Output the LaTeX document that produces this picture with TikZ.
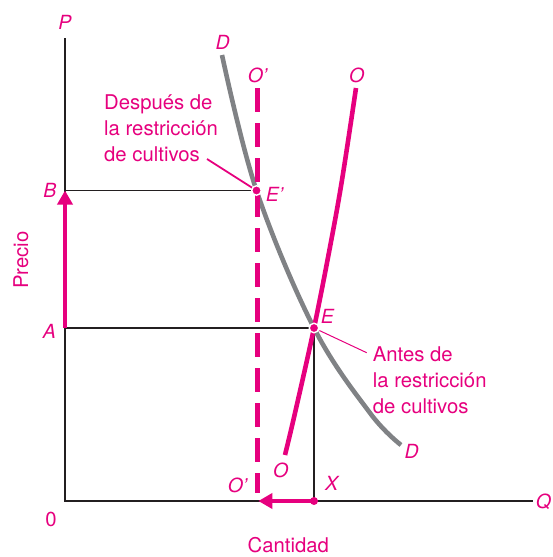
\documentclass[tikz,border=0pt]{standalone}
\usepackage{fontspec}
\setmainfont{TeX Gyre Heros}
\usetikzlibrary{arrows.meta}
\definecolor{mag}{HTML}{E6007E}
\definecolor{dgray}{HTML}{808285}
\definecolor{axk}{HTML}{231F20}
\begin{document}
\begin{tikzpicture}[x=1pt,y=-1pt,
  lbl/.style={text=mag,font=\fontsize{19.5}{24}\selectfont\itshape,inner sep=0pt},
  txt/.style={text=mag,font=\fontsize{20.3}{26}\selectfont,align=left,inner sep=0pt},
  axis/.style={draw=axk,line width=1.3pt},
  guide/.style={draw=axk,line width=1.1pt},
  curveD/.style={draw=dgray,line width=4.6pt},
  curveO/.style={draw=mag,line width=4.6pt},
  shiftarrow/.style={draw=mag,line width=4.6pt,-{Triangle[length=14pt,width=15pt]}},
  dot/.style={circle,fill=mag,draw=white,line width=1.4pt,minimum size=9.5pt,inner sep=0pt},
  leader/.style={draw=mag}
]
\useasboundingbox (0,0) rectangle (552,557);
% key points
\coordinate (orig) at (65,501);
\coordinate (ptop) at (65,38);
\coordinate (qend) at (533,501);
\coordinate (B) at (65,190.5);
\coordinate (A) at (65,328);
\coordinate (Ep) at (256.5,190.5);
\coordinate (E) at (314,328);
\coordinate (X) at (314,501);
\coordinate (Otop) at (257,88);
\coordinate (Obot) at (257,493);
\coordinate (leadD) at (207,159);
\coordinate (leadA) at (366.7,352.7);
% axes
\draw[axis] (ptop) -- (orig) -- (qend);
% guides
\draw[guide] (B) -- (Ep);
\draw[guide] (A) -- (E) -- (X);
% demand
\draw[curveD] plot[smooth,tension=0.6] coordinates {(222,55) (256.5,190.5) (314,328) (370,413) (401,445)};
% supply
\draw[curveO] plot[smooth,tension=0.6] coordinates {(285,455) (295,413) (314,328) (330,247) (342,180) (356,88)};
% restricted supply
\draw[curveO,line width=5pt,dash pattern=on 24pt off 11pt] (Otop) -- (Obot);
% arrows
\draw[shiftarrow] (A) -- (B);
\draw[shiftarrow] (X) -- (258.3,501);
% leaders
\draw[leader,line width=1.8pt,shorten >=5pt] (leadD) -- (Ep);
\draw[leader,line width=1pt,shorten <=6pt] (E) -- (leadA);
% dots
\node[dot] (dEp) at (Ep) {};
\node[dot] (dE) at (E) {};
\node[dot,draw=none,minimum size=8pt] (dX) at (X) {};
% labels
\node[lbl] (lP) at (65,22) {P};
\node[lbl] (lDt) at (222.7,42.7) {D};
\node[lbl] (lOpt) at (257.5,75) {O’};
\node[lbl] (lOt) at (356.7,75) {O};
\node[lbl] (lB) at (50,190) {B};
\node[lbl] (lEp) at (274.5,194.5) {E’};
\node[lbl] (lA) at (49.3,331) {A};
\node[lbl] (lE) at (327.3,316.7) {E};
\node[lbl] (lDb) at (411.7,451.7) {D};
\node[lbl] (lOb) at (280.7,470) {O};
\node[lbl] (lX) at (331.7,483.3) {X};
\node[lbl] (lOpb) at (237.5,485) {O’};
\node[lbl] (lQ) at (543.5,501.7) {Q};
\node[txt] (l0) at (51,519) {0};
\node[txt,rotate=90] (lprecio) at (21,260) {Precio};
\node[txt] (lcant) at (288.3,545) {Cantidad};
\node[txt,anchor=base west] (tD) at (104,161) {Después de\\la restricción\\de cultivos};
\node[txt,anchor=base west] (tA) at (372.7,413.7) {Antes de\\la restricción\\de cultivos};
\end{tikzpicture}
\end{document}
